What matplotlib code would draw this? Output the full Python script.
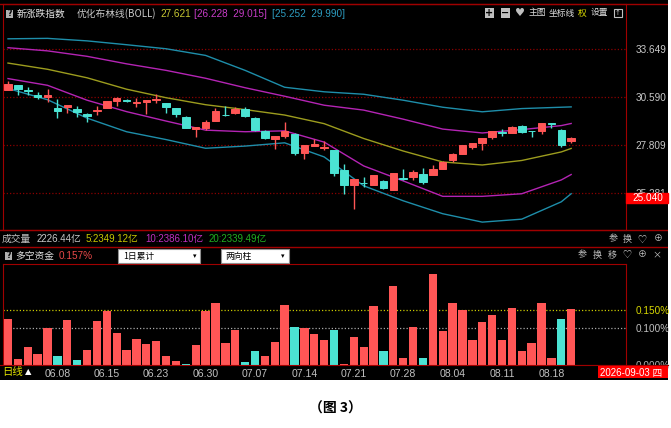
import matplotlib
matplotlib.use('Agg')
import matplotlib.pyplot as plt
from matplotlib.patches import Rectangle
from matplotlib.ticker import NullLocator
import numpy as np

W, H = 671, 428
CJK = ['Noto Sans CJK SC', 'DejaVu Sans']
NUM = ['Liberation Sans Narrow', 'Liberation Sans', 'Noto Sans CJK SC', 'DejaVu Sans']

# ---------------- data ----------------
opens = [31.01, 31.34, 31.01, 30.72, 30.58, 29.91, 30.00, 29.85, 29.57, 29.75,
         29.91, 30.34, 30.38, 30.24, 30.28, 30.42, 30.24, 29.92, 29.41, 28.72,
         28.78, 29.18, 29.53, 29.61, 29.85, 29.34, 28.61, 28.14, 28.31, 28.40,
         27.39, 27.75, 27.66, 27.54, 26.47, 25.68, 25.81, 25.69, 25.91, 25.44,
         26.05, 26.09, 26.24, 26.19, 26.51, 27.00, 27.30, 27.72, 27.94, 28.27,
         28.52, 28.49, 28.87, 28.61, 28.61, 29.05, 28.65, 28.02]
closes = [31.38, 31.07, 30.93, 30.60, 30.69, 29.75, 30.12, 29.71, 29.43, 29.81,
          30.32, 30.52, 30.34, 30.28, 30.42, 30.46, 30.00, 29.57, 28.78, 28.80,
          29.12, 29.73, 29.49, 29.85, 29.47, 28.65, 28.21, 28.33, 28.57, 27.39,
          27.79, 27.86, 27.70, 26.33, 25.68, 25.98, 25.78, 26.21, 25.52, 26.29,
          26.01, 26.38, 25.86, 26.53, 26.87, 27.32, 27.81, 27.94, 28.20, 28.61,
          28.48, 28.83, 28.52, 28.58, 29.03, 29.01, 27.81, 28.17]
highs = [31.57, 31.34, 31.17, 30.87, 31.05, 30.44, 30.12, 30.04, 29.64, 30.04,
         30.32, 30.60, 30.46, 30.50, 30.42, 30.75, 30.24, 29.92, 29.45, 28.80,
         29.22, 29.91, 30.06, 30.00, 30.00, 29.38, 28.65, 28.33, 29.12, 28.46,
         27.79, 28.12, 28.03, 27.54, 26.77, 25.98, 26.12, 26.21, 25.95, 26.29,
         26.50, 26.47, 26.56, 26.73, 26.96, 27.39, 27.81, 27.94, 28.20, 28.61,
         28.69, 28.87, 28.93, 28.61, 29.03, 29.06, 28.69, 28.27]
lows = [31.01, 30.70, 30.70, 30.44, 30.30, 29.35, 29.64, 29.41, 29.12, 29.53,
        29.91, 30.06, 30.26, 30.00, 29.55, 30.20, 29.61, 29.41, 28.75, 28.27,
        28.65, 29.18, 29.45, 29.57, 29.41, 28.61, 28.12, 27.57, 28.18, 27.26,
        27.03, 27.75, 27.54, 26.17, 25.24, 24.49, 25.61, 25.69, 25.47, 25.44,
        25.95, 25.95, 25.73, 26.19, 26.51, 26.91, 27.30, 27.57, 27.54, 28.12,
        28.31, 28.46, 28.49, 28.27, 28.40, 28.74, 27.72, 27.94]

# BOLL lines, read at every 4th bar plus the last one
band_idx = [0, 4, 8, 12, 16, 20, 24, 28, 32, 36, 40, 44, 48, 52, 56, 57]
boll_up2 = [34.32, 34.35, 34.18, 33.92, 33.65, 33.21, 32.24, 31.18, 30.90, 30.75,
            30.39, 29.97, 29.70, 29.89, 29.97, 29.99]
boll_up1 = [33.72, 33.51, 33.15, 32.66, 32.24, 31.74, 31.15, 30.63, 30.09, 29.80,
            29.27, 28.70, 28.48, 28.67, 28.90, 29.02]
boll_mid = [32.71, 32.31, 31.77, 31.06, 30.54, 30.12, 29.83, 29.51, 29.01, 28.17,
            27.48, 26.89, 26.73, 26.97, 27.43, 27.62]
boll_dn1 = [31.72, 31.30, 30.39, 29.71, 29.16, 28.64, 28.55, 28.60, 27.97, 26.68,
            25.90, 25.12, 25.12, 25.25, 25.95, 26.23]
boll_dn2 = [31.10, 30.42, 29.33, 28.55, 28.11, 27.63, 27.75, 27.93, 27.16, 25.65,
            24.90, 24.27, 23.87, 24.01, 24.85, 25.25]

price_ticks = [25.281, 27.809, 30.590, 33.649]
marker_price = 25.040

# 多空资金 (%)
fund = [0.125, 0.015, 0.048, 0.029, 0.100, 0.024, 0.121, 0.013, 0.041, 0.119,
        0.147, 0.086, 0.041, 0.071, 0.057, 0.066, 0.024, 0.011, 0.004, 0.054,
        0.146, 0.169, 0.059, 0.095, 0.007, 0.039, 0.024, 0.063, 0.164, 0.104,
        0.100, 0.084, 0.068, 0.096, 0.004, 0.077, 0.050, 0.160, 0.037, 0.213,
        0.018, 0.104, 0.018, 0.248, 0.093, 0.169, 0.150, 0.068, 0.116, 0.136,
        0.068, 0.155, 0.039, 0.061, 0.169, 0.018, 0.125, 0.153]
fund_out = [5, 7, 18, 24, 25, 29, 33, 38, 42, 56]
fund_ticks = [0.0, 0.10, 0.15]
fund_tick_labels = ['0.000%', '0.100%', '0.150%']

dates = ['06.08', '06.15', '06.23', '06.30', '07.07', '07.14',
         '07.21', '07.28', '08.04', '08.11', '08.18']
date_idx = [5, 10, 15, 20, 25, 30, 35, 40, 45, 50, 55]

RED = '#FF5656'
TEAL = '#4BE3D3'
FRAME = '#A00000'


def box(x0, y0, x1, y1):
    return [x0 / W, 1 - y1 / H, (x1 - x0) / W, (y1 - y0) / H]


fig = plt.figure(figsize=(W / 100, H / 100), dpi=100)
fig.patch.set_facecolor('white')


def ftext(x, y, s, color, size=7, fam=CJK, **kw):
    kw.setdefault('va', 'center')
    return fig.text(x / W, 1 - y / H, s, color=color, fontsize=size, family=fam, **kw)


def frect(x0, y0, x1, y1, fc, ec='none', z=2.5, lw=0.8):
    fig.add_artist(Rectangle((x0 / W, 1 - y1 / H), (x1 - x0) / W, (y1 - y0) / H,
                             transform=fig.transFigure, facecolor=fc, edgecolor=ec,
                             lw=lw, zorder=z))


def clean(ax):
    ax.set_xticks([])
    ax.set_yticks([])
    for s in ax.spines.values():
        s.set_visible(False)


# black background of the whole terminal area, in pixel units
bg = fig.add_axes(box(0, 0, 668, 380))
bg.set_facecolor('black')
bg.set_xlim(0, 668)
bg.set_ylim(380, 0)
clean(bg)
for yy in (4, 230, 247):
    bg.axhline(yy, color=FRAME, lw=1)

# ---------------- main K-line panel ----------------
ax1 = fig.add_axes(box(3, 4, 626, 230))
ax1.set_facecolor('none')
ax1.set_yscale('log')
ax1.set_ylim(23.50, 36.77)
ax1.set_xlim(-0.506, 62.55)
ax1.set_yticks(price_ticks, labels=['%.3f' % v for v in price_ticks])
ax1.yaxis.set_minor_locator(NullLocator())
ax1.yaxis.tick_right()
ax1.tick_params(axis='y', length=0, pad=7, labelsize=7.2, labelcolor='#C8C8C8')
for lbl in ax1.get_yticklabels():
    lbl.set_family(NUM)
ax1.set_xticks([])
ax1.grid(axis='y', color='#8A0000', ls=(0, (1, 1.6)), lw=0.9)
for s in ax1.spines.values():
    s.set_color(FRAME)

x = np.arange(len(opens))
o = np.array(opens)
c = np.array(closes)
cols = np.where(c >= o, RED, TEAL)
ax1.vlines(x, lows, highs, colors=cols, lw=1, zorder=3)
ax1.bar(x, np.abs(c - o), bottom=np.minimum(o, c), width=0.76,
        color=cols, edgecolor=cols, lw=0.7, zorder=4)

ax1.plot(band_idx, boll_up2, color='#1E8EAA', lw=1, zorder=2)
ax1.plot(band_idx, boll_up1, color='#B424B4', lw=1, zorder=2)
ax1.plot(band_idx, boll_mid, color='#9C9C1E', lw=1, zorder=2)
ax1.plot(band_idx, boll_dn1, color='#B424B4', lw=1, zorder=2)
ax1.plot(band_idx, boll_dn2, color='#1E8EAA', lw=1, zorder=2)

# red price marker on the right axis
tr = ax1.get_yaxis_transform()
half = np.exp(0.0105)
ax1.add_patch(Rectangle((1.0, marker_price / half), 42 / 623,
                        marker_price * half - marker_price / half,
                        transform=tr, clip_on=False, color='#FF0000', zorder=6))
ax1.text(1.0 + 22 / 623, marker_price, '%.3f' % marker_price, transform=tr,
         ha='center', va='center', color='white', fontsize=7.2, family=NUM,
         clip_on=False, zorder=7)

# ---------------- 多空资金 panel ----------------
ax2 = fig.add_axes(box(3, 264, 626, 365))
ax2.set_facecolor('none')
ax2.set_xlim(-0.506, 62.55)
ax2.set_ylim(0, 0.274)
fcols = [TEAL if i in fund_out else RED for i in range(len(fund))]
ax2.bar(np.arange(len(fund)), fund, width=0.84, color=fcols, zorder=3)
ax2.axhline(0.15, color='#C8C800', ls=(0, (1, 1.6)), lw=0.9, zorder=1)
ax2.axhline(0.10, color='#A8A8A8', ls=(0, (1, 1.6)), lw=0.9, zorder=1)
ax2.set_xticks([])
ax2.set_yticks(fund_ticks, labels=fund_tick_labels)
ax2.yaxis.tick_right()
ax2.tick_params(axis='y', length=0, pad=7, labelsize=7.2)
for lbl, col in zip(ax2.get_yticklabels(), ['#B0B0B0', '#C0C0C0', '#D8D800']):
    lbl.set_family(NUM)
    lbl.set_color(col)
for s in ax2.spines.values():
    s.set_color(FRAME)

# ---------------- date row (also hides the lower half of 0.000%) ----------------
ax3 = fig.add_axes(box(0, 365, 668, 380))
ax3.set_zorder(2)
ax3.set_facecolor('black')
clean(ax3)
ax3.spines['top'].set_visible(True)
ax3.spines['top'].set_color(FRAME)
ax3.set_xlim(-0.81, 66.80)
ax3.set_ylim(0, 1)
for i, d in zip(date_idx, dates):
    ax3.text(i, 0.42, d, ha='center', va='center', color='#C0C0C0',
             fontsize=7.6, family=NUM)

ftext(2, 372, '日线', '#E0E000', size=7.5)
ftext(25, 372, '▲', 'white', size=6, fam=['DejaVu Sans'])
frect(598, 366, 668, 378, '#FF0000', z=3)
ftext(600, 372, '2026-09-03 四', 'white', size=7, fam=NUM, zorder=4)

# ---------------- header texts ----------------
frect(6, 9.5, 13, 17.5, '#B0B0B0')
ftext(9.5, 13.5, '?', 'black', size=5.5, fam=['DejaVu Sans'], ha='center', weight='bold')
ftext(17, 14, '新涨跌指数', '#E8E8E8')
ftext(77, 14, '优化布林线(BOLL)', '#C8C8C8')
ftext(160, 14, '27.621', '#C8C832', size=7.2, fam=NUM)
ftext(194, 14, '[26.228  29.015]', '#C83CC8', size=7.2, fam=NUM)
ftext(272, 14, '[25.252  29.990]', '#2C9CC0', size=7.2, fam=NUM)

frect(485, 8.5, 494, 17.5, '#C0C0C0')
ftext(489.5, 13, '+', 'black', size=7, fam=['DejaVu Sans'], ha='center', weight='bold')
frect(501, 8.5, 510, 17.5, '#C0C0C0')
ftext(505.5, 13, '−', 'black', size=7, fam=['DejaVu Sans'], ha='center', weight='bold')
ftext(520, 13, '♥', '#C0C0C0', size=8, fam=['DejaVu Sans'], ha='center')
ftext(529, 13, '主图', '#E0E0E0', size=6.3)
ftext(549, 13, '坐标线', '#E0E0E0', size=6.3)
ftext(578, 13, '权', '#E0E000', size=6.3)
ftext(591, 13, '设置', '#E0E0E0', size=6.3)
frect(614, 9, 622, 17, 'none', ec='#C0C0C0')
ftext(618, 13, '↑', '#C0C0C0', size=5, fam=['DejaVu Sans'], ha='center')

# volume summary row
ftext(2, 239, '成交量', '#C0C0C0')
ftext(37, 239, '2226.44亿', '#C8C8C8', size=7, fam=NUM)
ftext(86, 239, '5:2349.12亿', '#C8C800', size=7, fam=NUM)
ftext(145, 239, '10:2386.10亿', '#C030C0', size=7, fam=NUM)
ftext(209, 239, '20:2339.49亿', '#20B020', size=7, fam=NUM)
for xx, s in zip([613, 627, 642, 658], ['参', '换', '♡', '⊕']):
    ftext(xx, 239, s, '#C0C0C0', size=6.5, ha='center')

# 多空资金 header row
frect(5, 251.5, 12, 259.5, '#B0B0B0')
ftext(8.5, 255.5, '?', 'black', size=5.5, fam=['DejaVu Sans'], ha='center', weight='bold')
ftext(15, 256, '多空资金', '#E0E0E0')
ftext(59, 256, '0.157%', '#E84848', size=7.2, fam=NUM)
frect(118, 249, 200, 263, 'white', ec='#909090')
ftext(123, 256, '1日累计', 'black', size=6.3, zorder=4)
ftext(195, 256, '▾', 'black', size=5, fam=['DejaVu Sans'], ha='center', zorder=4)
frect(221, 249, 289, 263, 'white', ec='#909090')
ftext(225, 256, '两向柱', 'black', size=6.3, zorder=4)
ftext(283, 256, '▾', 'black', size=5, fam=['DejaVu Sans'], ha='center', zorder=4)
for xx, s in zip([582, 597, 612, 627, 642, 657], ['参', '换', '移', '♡', '⊕', '×']):
    ftext(xx, 255, s, '#C0C0C0', size=6.5, ha='center')

# caption below the screenshot
ftext(335, 409, '（图 3）', 'black', size=10, ha='center', weight='bold')

fig.savefig('out.png', dpi=100, facecolor='white')
